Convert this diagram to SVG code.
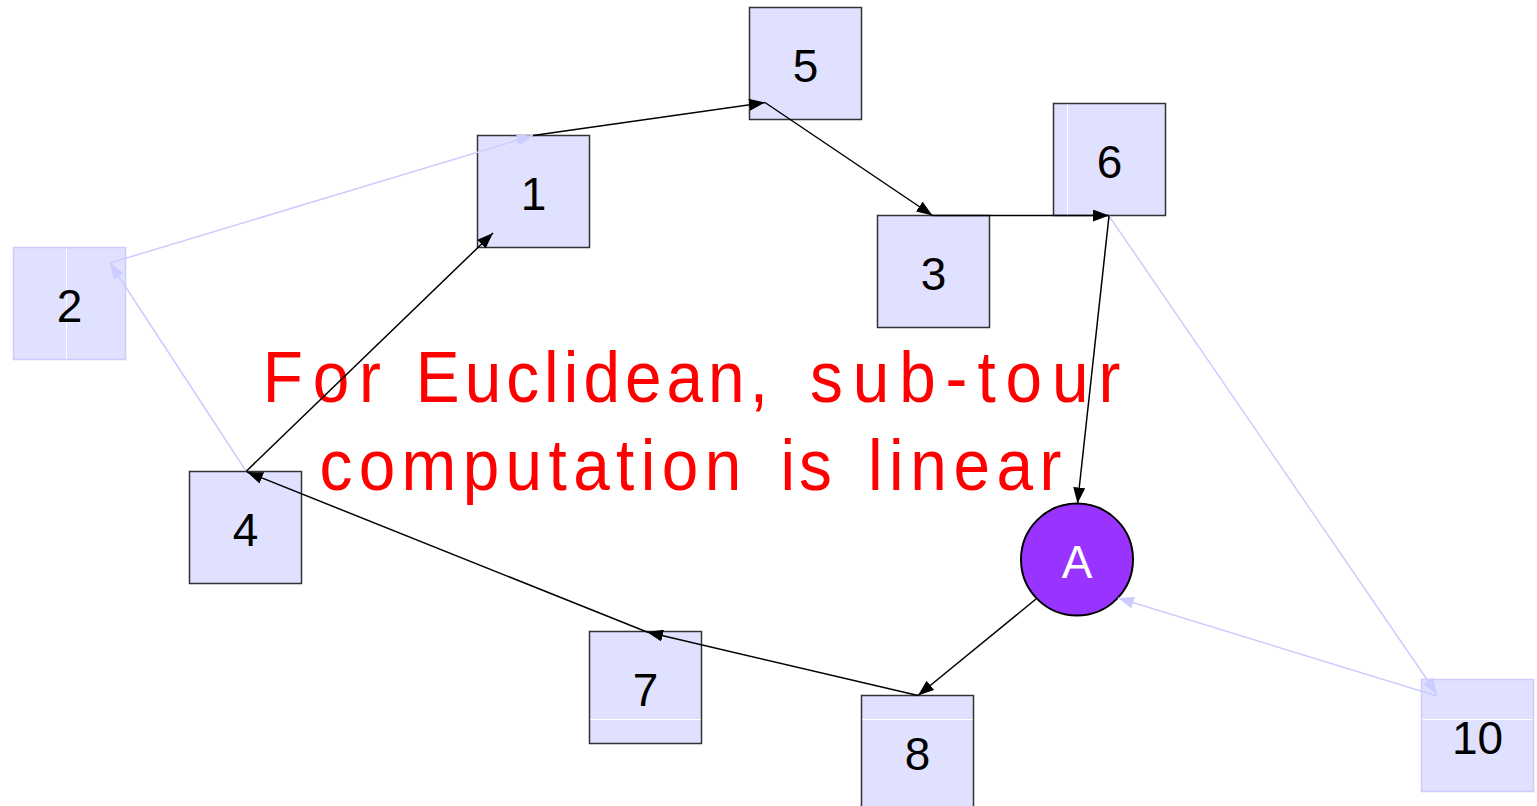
<svg xmlns="http://www.w3.org/2000/svg" width="1537" height="806" viewBox="0 0 1537 806">
  <style>
    .box { fill: #E0E0FF; stroke: #333333; stroke-width: 1.5; }
    .faded { fill: #E0E0FF; stroke: #CCCCFF; stroke-width: 1.5; }
    .sep { stroke: #FFFFFF; stroke-width: 1; }
    .lbl { font-family: "Liberation Sans", Arial, sans-serif; font-size: 46px; fill: #000000; text-anchor: middle; }
    .edge { fill: none; stroke: #000000; stroke-width: 1.5; marker-end: url(#arrow); }
    .fedge { fill: none; stroke: #CCCCFF; stroke-width: 1.5; marker-end: url(#farrow); }
    .note { font-family: "Liberation Sans", Arial, sans-serif; font-size: 73px; fill: #FF0000; }
  </style>
  <defs>
    <marker id="arrow" markerUnits="userSpaceOnUse" markerWidth="16" markerHeight="12" refX="16" refY="6" orient="auto">
      <path d="M0,0 L16,6 L0,12 z" fill="#000000"/>
    </marker>
    <marker id="farrow" markerUnits="userSpaceOnUse" markerWidth="16" markerHeight="12" refX="16" refY="6" orient="auto">
      <path d="M0,0 L16,6 L0,12 z" fill="#CCCCFF"/>
    </marker>
  </defs>
  <rect width="1537" height="806" fill="#FFFFFF"/>

  <g id="node-5">
    <rect class="box" x="749.5" y="7.5" width="112" height="112"/>
    <text class="lbl" x="805.5" y="82">5</text>
  </g>
  <g id="node-1">
    <rect class="box" x="477.5" y="135.5" width="112" height="112"/>
    <text class="lbl" x="533.5" y="210">1</text>
  </g>
  <g id="node-6">
    <rect class="box" x="1053.5" y="103.5" width="112" height="112"/>
    <line class="sep" x1="1067.5" y1="104.5" x2="1067.5" y2="214.5"/>
    <text class="lbl" x="1109.5" y="178">6</text>
  </g>
  <g id="node-3">
    <rect class="box" x="877.5" y="215.5" width="112" height="112"/>
    <text class="lbl" x="933.5" y="290">3</text>
  </g>
  <g id="node-2">
    <rect class="faded" x="13.5" y="247.5" width="112" height="112"/>
    <line class="sep" x1="66.5" y1="248.5" x2="66.5" y2="358.5"/>
    <text class="lbl" x="69.5" y="322">2</text>
  </g>
  <g id="node-4">
    <rect class="box" x="189.5" y="471.5" width="112" height="112"/>
    <text class="lbl" x="245.5" y="546">4</text>
  </g>
  <g id="node-7">
    <rect class="box" x="589.5" y="631.5" width="112" height="112"/>
    <line class="sep" x1="590.5" y1="719.5" x2="700.5" y2="719.5"/>
    <text class="lbl" x="645.5" y="706">7</text>
  </g>
  <g id="node-8">
    <rect class="box" x="861.5" y="695.5" width="112" height="112"/>
    <line class="sep" x1="862.5" y1="719.5" x2="972.5" y2="719.5"/>
    <text class="lbl" x="917.5" y="770">8</text>
  </g>
  <g id="node-10">
    <rect class="faded" x="1421.5" y="679.5" width="112" height="112"/>
    <line class="sep" x1="1422.5" y1="719.5" x2="1532.5" y2="719.5"/>
    <text class="lbl" x="1477.5" y="754">10</text>
  </g>
  <g id="node-A">
    <circle cx="1077" cy="559.5" r="56" fill="#9933FF" stroke="#000000" stroke-width="2"/>
    <text class="lbl" x="1077" y="578" style="fill:#FFFFFF">A</text>
  </g>

  <g id="note">
    <text class="note" transform="scale(0.9,1)" y="402"><tspan x="291.9" letter-spacing="10.9">For</tspan> <tspan x="462" letter-spacing="5.6">Euclidean,</tspan> <tspan x="900" letter-spacing="11">sub-tour</tspan></text>
    <text class="note" transform="scale(0.9,1)" y="490"><tspan x="354.9" letter-spacing="7.1">computation</tspan> <tspan x="867.3" letter-spacing="4.2">is</tspan> <tspan x="964.4" letter-spacing="7.3">linear</tspan></text>
  </g>

  <g id="connectors">
    <line class="fedge" x1="110" y1="263" x2="533" y2="135.5"/>
    <line class="fedge" x1="246" y1="471" x2="110" y2="263"/>
    <line class="fedge" x1="1109" y1="216" x2="1437" y2="694"/>
    <line class="fedge" x1="1437" y1="696" x2="1118" y2="598"/>
    <line class="edge" x1="533" y1="135.5" x2="765" y2="102.5"/>
    <line class="edge" x1="765" y1="102.5" x2="932.5" y2="215.5"/>
    <line class="edge" x1="932.5" y1="215.5" x2="1109" y2="215.5"/>
    <line class="edge" x1="1109" y1="216" x2="1077.5" y2="503.5"/>
    <line class="edge" x1="1036" y1="599" x2="918" y2="695.5"/>
    <line class="edge" x1="918" y1="695.5" x2="647" y2="632"/>
    <line class="edge" x1="647" y1="632" x2="247" y2="472"/>
    <line class="edge" x1="246" y1="471.5" x2="493" y2="233"/>
  </g>
</svg>
